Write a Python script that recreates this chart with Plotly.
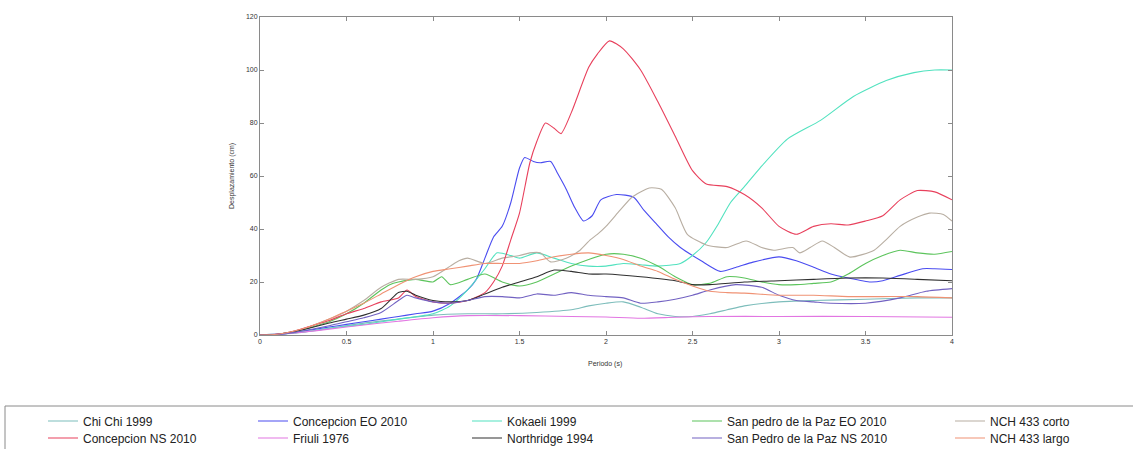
import plotly.graph_objects as go

# ---------------- data ----------------
names = ["Chi Chi 1999", "Concepcion EO 2010", "Kokaeli 1999", "San pedro de la Paz EO 2010", "NCH 433 corto",
         "Concepcion NS 2010", "Friuli 1976", "Northridge 1994", "San Pedro de la Paz NS 2010", "NCH 433 largo"]

chichi_T = [0, 0.2, 0.4, 0.6, 0.8, 1.0, 1.2, 1.4, 1.6, 1.8, 1.9, 2.0, 2.1, 2.2, 2.3, 2.4, 2.5, 2.6, 2.7, 2.8, 3.0, 3.2, 3.5, 3.8, 4.0]
chichi_D = [0, 0.7, 2.5, 4.5, 6, 7.5, 8, 8, 8.5, 9.5, 11, 12, 12.5, 10.5, 8, 7, 7, 8, 9.5, 11, 12.5, 13, 13.5, 14, 14]

concEO_T = [0, 0.1, 0.2, 0.3, 0.4, 0.5, 0.6, 0.7, 0.8, 0.9, 1.0, 1.1, 1.2, 1.25, 1.3, 1.35, 1.4, 1.45, 1.5, 1.53, 1.58,
            1.62, 1.68, 1.72, 1.77, 1.82, 1.87, 1.92, 1.97, 2.06, 2.16, 2.22, 2.29, 2.36, 2.43, 2.55, 2.66, 2.75, 2.85,
            3.0, 3.1, 3.2, 3.3, 3.4, 3.53, 3.6, 3.7, 3.83, 3.9, 4.0]
concEO_D = [0, 0.2, 1, 2, 3, 4, 5, 6, 7, 8, 9, 12, 17, 21, 29, 37, 41, 50, 63, 67, 65.5,
            65, 65.5, 61, 55, 48, 43, 45, 51, 53, 52, 47, 42, 37, 33, 28, 24, 25.5, 27.5,
            29.5, 28, 25.6, 23, 21.5, 20, 20.5, 22.5, 25, 25, 24.7]

kokaeli_T = [0, 0.2, 0.4, 0.6, 0.8, 1.0, 1.1, 1.2, 1.3, 1.37, 1.45, 1.5, 1.6, 1.7, 1.8, 1.9, 2.0, 2.1, 2.2, 2.3, 2.43,
             2.5, 2.58, 2.65, 2.72, 2.8, 2.89, 3.05, 3.24, 3.43, 3.62, 3.78, 3.9, 4.0]
kokaeli_D = [0, 0.8, 2.5, 4, 6, 8, 11, 17, 25, 31, 30, 29, 31, 29, 27, 26, 26, 27, 26.5, 26, 27,
             30, 35, 42, 50, 56, 63, 74, 81, 90, 96, 99, 100, 100]

spEO_T = [0, 0.1, 0.2, 0.3, 0.4, 0.5, 0.6, 0.7, 0.75, 0.8, 0.9, 1.0, 1.05, 1.1, 1.2, 1.3, 1.4, 1.5, 1.6, 1.7, 1.8, 1.9,
          2.0, 2.1, 2.2, 2.3, 2.4, 2.5, 2.6, 2.7, 2.8, 2.9, 3.0, 3.1, 3.2, 3.3, 3.4, 3.5, 3.6, 3.7, 3.8, 3.9, 4.0]
spEO_D = [0, 0.3, 1.2, 3, 5, 8, 12, 17, 19, 20, 21, 20, 22, 19, 21, 23, 20, 18.5, 20, 23, 26, 28.5,
          30.5, 30.5, 29, 26, 22, 19, 19.5, 22, 21.5, 20, 19, 19, 19.5, 20, 23, 27, 30, 32, 31, 30.5, 31.5]

corto_T = [0, 0.1, 0.2, 0.3, 0.4, 0.5, 0.6, 0.7, 0.8, 0.9, 1.0, 1.1, 1.15, 1.2, 1.3, 1.4, 1.5, 1.56, 1.62, 1.68, 1.77,
           1.85, 1.91, 1.95, 2.0, 2.08, 2.15, 2.25, 2.32, 2.4, 2.47, 2.58, 2.7, 2.81, 2.9, 2.97, 3.08, 3.12, 3.18, 3.25,
           3.32, 3.41, 3.55, 3.62, 3.7, 3.8, 3.87, 3.95, 4.0]
corto_D = [0, 0.3, 1.5, 3.5, 6, 9, 13, 18, 21, 21, 22, 26, 28, 29, 27, 29, 30, 31, 31, 27.6, 29,
           32, 36, 38, 41, 47, 52, 55.5, 55, 48, 38, 34, 33, 35.5, 33, 32, 33, 31, 33, 35.5,
           33, 29.4, 32, 36, 41, 44.5, 46, 45.5, 43]

concNS_T = [0, 0.1, 0.2, 0.3, 0.4, 0.5, 0.6, 0.7, 0.8, 0.85, 0.9, 1.0, 1.1, 1.2, 1.3, 1.35, 1.4, 1.45, 1.5, 1.56, 1.6,
            1.65, 1.7, 1.74, 1.8, 1.9, 1.95, 2.02, 2.1, 2.2, 2.3, 2.4, 2.5, 2.58, 2.7, 2.8, 2.9, 3.0, 3.1, 3.2, 3.3,
            3.4, 3.5, 3.6, 3.7, 3.8, 3.9, 4.0]
concNS_D = [0, 0.3, 1.5, 3.5, 5.5, 8, 10, 12.5, 14, 17, 14.5, 12.5, 12, 13, 16, 20, 26, 36, 46, 65, 73,
            80, 78, 76, 84, 101, 106, 111, 108, 100, 88, 75, 62, 57, 56, 53, 48, 41, 38, 41, 42,
            41.5, 43, 45, 51, 54.5, 54, 51]

friuli_T = [0, 0.2, 0.4, 0.6, 0.8, 1.0, 1.2, 1.5, 1.8, 2.0, 2.2, 2.4, 2.6, 3.0, 3.5, 4.0]
friuli_D = [0, 0.8, 2.2, 3.8, 5.2, 6.5, 7.3, 7.3, 7, 6.8, 6.3, 6.7, 7, 7, 7, 6.7]

northridge_T = [0, 0.1, 0.2, 0.3, 0.4, 0.5, 0.6, 0.7, 0.75, 0.8, 0.85, 0.9, 1.0, 1.1, 1.2, 1.3, 1.4, 1.5, 1.6, 1.7,
                1.8, 1.9, 2.0, 2.2, 2.4, 2.5, 2.6, 2.8, 3.0, 3.2, 3.4, 3.6, 3.8, 4.0]
northridge_D = [0, 0.3, 1.2, 2.8, 4.5, 6, 7.5, 10, 13, 16, 16.5, 15, 13, 12.5, 13, 15.5, 18, 20, 22, 24.5,
                24, 23, 23, 22, 20.5, 19, 19, 20, 20.5, 21, 21.5, 21.5, 21, 20.5]

spNS_T = [0, 0.1, 0.2, 0.3, 0.4, 0.5, 0.6, 0.7, 0.8, 0.85, 0.9, 1.0, 1.1, 1.2, 1.3, 1.4, 1.5, 1.6, 1.7, 1.8, 1.9, 2.0,
          2.1, 2.2, 2.3, 2.4, 2.5, 2.6, 2.75, 2.9, 3.0, 3.1, 3.2, 3.3, 3.5, 3.7, 3.85, 4.0]
spNS_D = [0, 0.2, 1, 2.2, 3.5, 5, 6.5, 8.5, 13, 15, 14, 12.5, 12, 13, 14.5, 14.5, 14, 15.5, 15, 16, 15, 14.5,
          14, 12, 12.5, 13.5, 15, 17, 19, 18, 15, 13, 12.5, 12, 12, 14, 16.5, 17.5]

largo_T = [0, 0.1, 0.2, 0.3, 0.4, 0.5, 0.6, 0.7, 0.8, 0.9, 1.0, 1.1, 1.2, 1.3, 1.4, 1.5, 1.6, 1.7, 1.8, 1.9, 2.0,
           2.1, 2.2, 2.3, 2.4, 2.5, 2.6, 2.7, 2.8, 3.0, 3.2, 3.4, 3.6, 3.8, 4.0]
largo_D = [0, 0.3, 1.5, 3.5, 6, 9, 12, 15.5, 19, 22, 24, 25, 26, 27, 27, 27, 28, 29.5, 30.5, 31, 30,
           28.5, 26, 24, 21, 18.5, 16.5, 16, 15.8, 15, 15, 14.5, 14.5, 14.5, 14]

x_ticks = [0, 0.5, 1, 1.5, 2, 2.5, 3, 3.5, 4]
y_ticks = [0, 20, 40, 60, 80, 100, 120]

# ---------------- styling ----------------
series = [
    (chichi_T, chichi_D, "#7dbdbb"),
    (concEO_T, concEO_D, "#4a4cf0"),
    (kokaeli_T, kokaeli_D, "#52e2bf"),
    (spEO_T, spEO_D, "#5cc45c"),
    (corto_T, corto_D, "#b8aea2"),
    (concNS_T, concNS_D, "#e8405c"),
    (friuli_T, friuli_D, "#e276e2"),
    (northridge_T, northridge_D, "#303030"),
    (spNS_T, spNS_D, "#7262c2"),
    (largo_T, largo_D, "#f09274"),
]

W, H = 1133, 449
L, R, T, B = 260, 952, 17, 335

# legend layout: 5 columns x 2 rows, one small legend per entry
text_x = [83, 293, 507, 727, 990]
row_y = [421, 438]
legend_keys = ["legend"] + [f"legend{i}" for i in range(2, 11)]

fig = go.Figure()
for i, (name, (xs, ys, col)) in enumerate(zip(names, series)):
    fig.add_trace(go.Scatter(x=xs, y=ys, mode="lines", name=name, legend=legend_keys[i],
                             line=dict(color=col, width=1.1, shape="spline", smoothing=0.6)))

font = "Liberation Sans, Arial, sans-serif"
axis_common = dict(showline=True, linecolor="#8a8a8a", linewidth=1, mirror="ticks",
                   ticks="inside", ticklen=4, tickcolor="#8a8a8a", showgrid=False, zeroline=False,
                   tickfont=dict(size=7, color="#333", family=font))

fig.update_xaxes(range=[0, 4], tickvals=x_ticks, ticktext=[f"{v:g}" for v in x_ticks], **axis_common)
fig.update_yaxes(range=[0, 120], tickvals=y_ticks, **axis_common)

leg_font = dict(size=12, color="#222", family=font)
leg_layout = {}
for i, key in enumerate(legend_keys):
    col, row = i % 5, i // 5
    leg_layout[key] = dict(x=(text_x[col] - 40) / W, xref="container", xanchor="left",
                           y=1 - row_y[row] / H, yref="container", yanchor="middle",
                           orientation="v", bgcolor="rgba(0,0,0,0)", borderwidth=0,
                           font=leg_font, itemwidth=30)

fig.update_layout(
    width=W, height=H,
    margin=dict(l=L, r=W - R, t=T, b=H - B, autoexpand=False),
    paper_bgcolor="white", plot_bgcolor="white",
    showlegend=True,
    **leg_layout,
)

pw, ph = R - L, B - T
# axis titles
title_font = dict(size=7, color="#333", family=font)
fig.add_annotation(text="Desplazamiento (cm)", xref="paper", yref="paper",
                   x=(232 - L) / pw, y=0.5, textangle=-90, showarrow=False,
                   xanchor="center", yanchor="middle", font=title_font)
fig.add_annotation(text="Periodo (s)", xref="paper", yref="paper",
                   x=(605 - L) / pw, y=(B - 364) / ph, showarrow=False,
                   xanchor="center", yanchor="middle", font=title_font)

# legend frame (extends past the right edge like in the reference)
fig.add_shape(type="rect", xref="paper", yref="paper",
              x0=(5 - L) / pw, x1=(1145 - L) / pw,
              y0=(B - 460) / ph, y1=(B - 406) / ph,
              line=dict(color="#8a8a8a", width=1), fillcolor="rgba(0,0,0,0)", layer="below")

fig.write_html("out.html", config={"displayModeBar": False},
               post_script="document.body.style.margin='0';")
